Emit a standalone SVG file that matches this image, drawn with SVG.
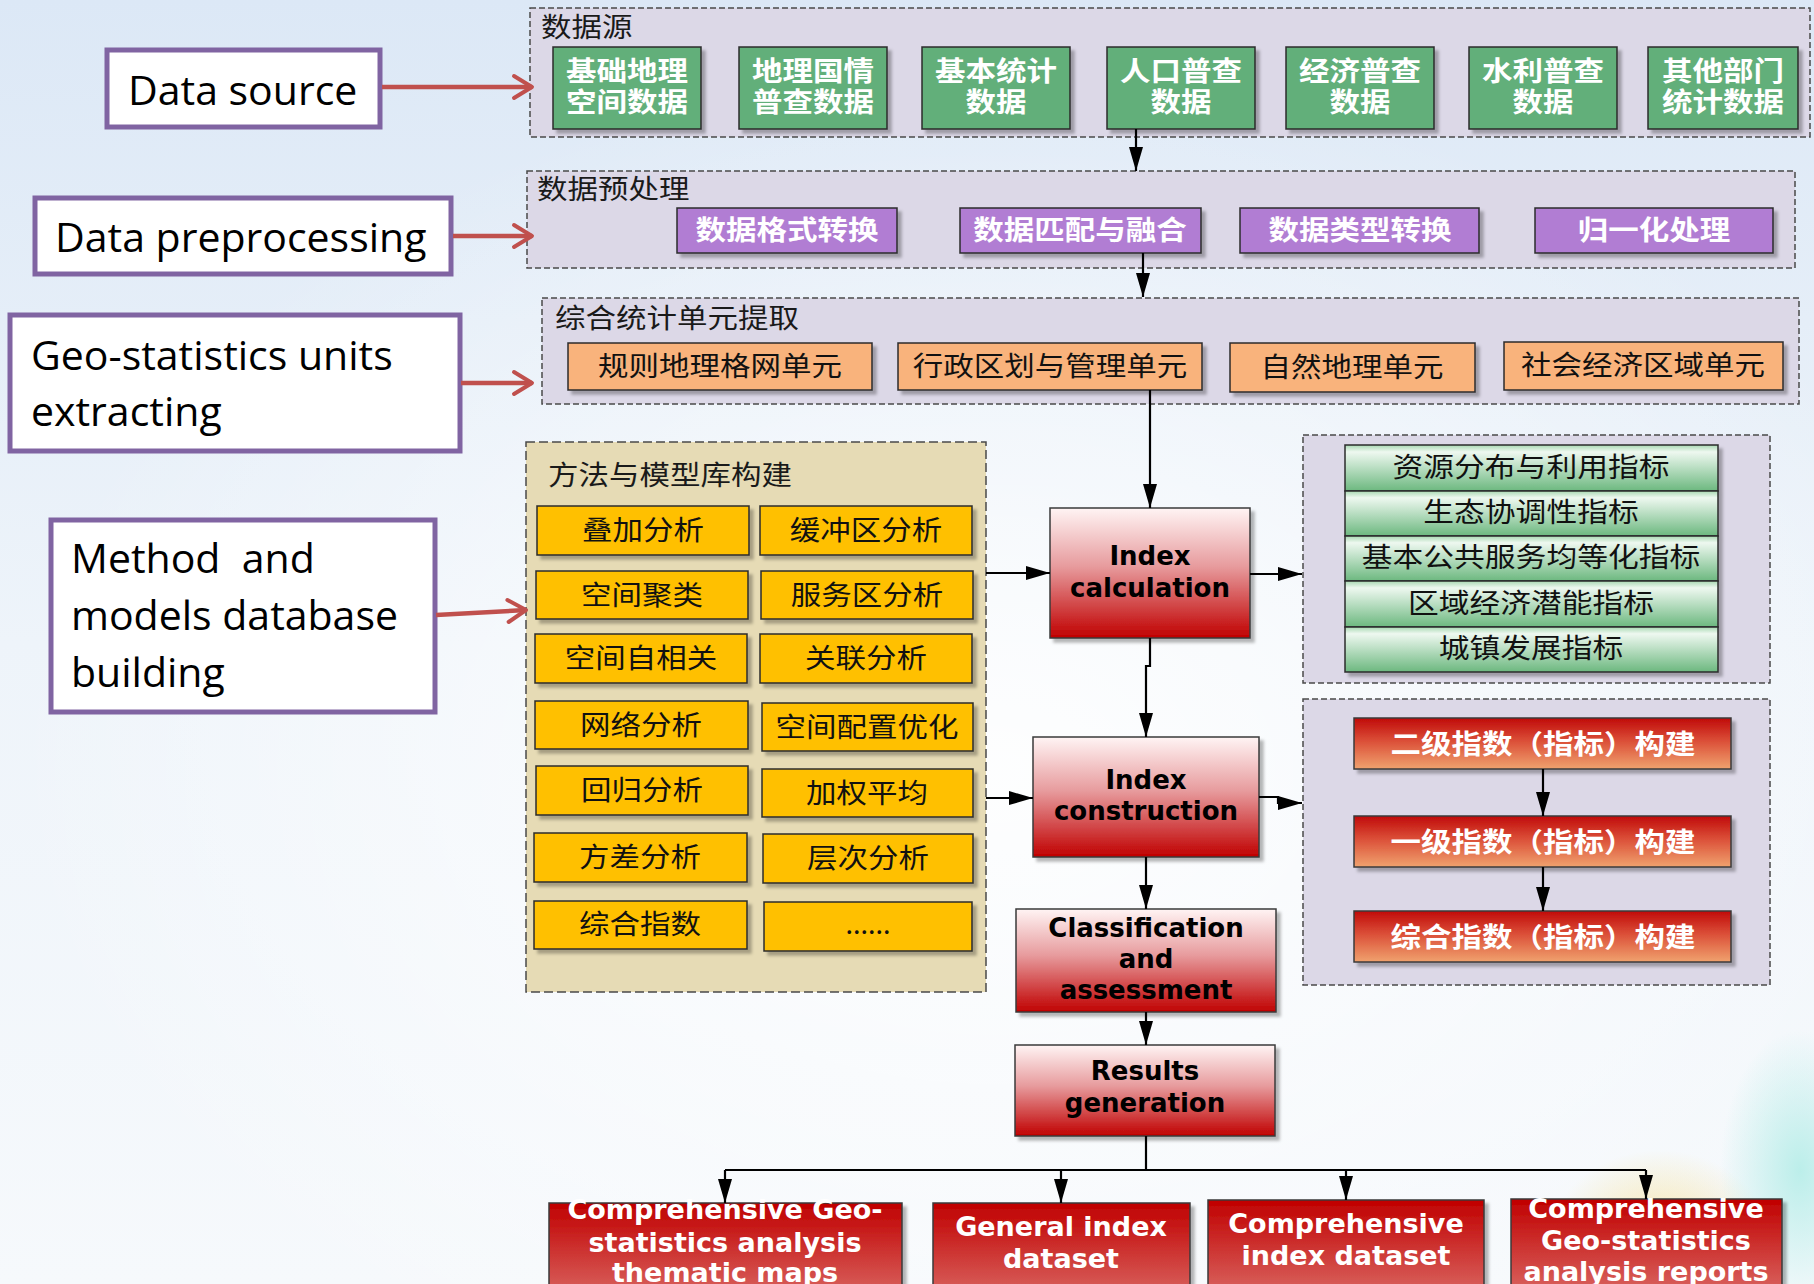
<svg xmlns="http://www.w3.org/2000/svg" width="1814" height="1284" viewBox="0 0 1814 1284">
  <defs>
    <linearGradient id="bg" x1="0" y1="0" x2="0" y2="1">
      <stop offset="0" stop-color="#DCE8F6"/>
      <stop offset="0.5" stop-color="#EEF4FA"/>
      <stop offset="1" stop-color="#F6F9FC"/>
    </linearGradient>
    <radialGradient id="bgWhite" cx="0.55" cy="0.6" r="0.55">
      <stop offset="0" stop-color="#FFFFFF" stop-opacity="0.9"/>
      <stop offset="1" stop-color="#FFFFFF" stop-opacity="0"/>
    </radialGradient>
    <radialGradient id="glowYellow" cx="0.5" cy="0.5" r="0.5">
      <stop offset="0" stop-color="#F7E3A0" stop-opacity="0.9"/>
      <stop offset="1" stop-color="#F7E3A0" stop-opacity="0"/>
    </radialGradient>
    <radialGradient id="glowTeal" cx="0.5" cy="0.5" r="0.5">
      <stop offset="0" stop-color="#B5EDE8" stop-opacity="0.9"/>
      <stop offset="1" stop-color="#B5EDE8" stop-opacity="0"/>
    </radialGradient>
    <linearGradient id="gStep" x1="0" y1="0" x2="0" y2="1">
      <stop offset="0" stop-color="#FFF4F4"/>
      <stop offset="0.45" stop-color="#E79B9D"/>
      <stop offset="1" stop-color="#C00000"/>
    </linearGradient>
    <linearGradient id="gBuild" x1="0" y1="0" x2="0" y2="1">
      <stop offset="0" stop-color="#C00A0A"/>
      <stop offset="0.45" stop-color="#DB4F38"/>
      <stop offset="1" stop-color="#F0A26E"/>
    </linearGradient>
    <linearGradient id="gResult" x1="0" y1="0" x2="0" y2="1">
      <stop offset="0" stop-color="#C00000"/>
      <stop offset="1" stop-color="#E0807A"/>
    </linearGradient>
    <linearGradient id="gIndicator" x1="0" y1="0" x2="0" y2="1">
      <stop offset="0" stop-color="#A8D8B2"/>
      <stop offset="0.15" stop-color="#EEF8F0"/>
      <stop offset="1" stop-color="#6CB87F"/>
    </linearGradient>
    <filter id="sh" x="-10%" y="-10%" width="130%" height="140%">
      <feDropShadow dx="4" dy="4" stdDeviation="1.5" flood-color="#000" flood-opacity="0.28"/>
    </filter>
    <marker id="tri" viewBox="0 0 24 14" refX="24" refY="7" markerWidth="24" markerHeight="14" markerUnits="userSpaceOnUse" orient="auto">
      <path d="M0,0 L24,7 L0,14 z" fill="#000"/>
    </marker>
    <marker id="chev" viewBox="-4 -4 28 30" refX="20" refY="11" markerWidth="28" markerHeight="30" markerUnits="userSpaceOnUse" orient="auto">
      <path d="M2,0 L20,11 L2,22" fill="none" stroke="#C0504D" stroke-width="4" stroke-linecap="round" stroke-linejoin="round"/>
    </marker>
    <style>
      .lbl { fill: #FFFFFF; stroke: #8064A2; stroke-width: 5; }
      .lbltxt { font-family: "Open Sans", "Noto Sans", sans-serif; font-size: 41px; fill: #000; }
      .grp { fill: #DCD8E7; stroke: #4A4A4A; stroke-width: 1.5; stroke-dasharray: 6 3; }
      .grpM { fill: #E6DBB5; stroke: #4A4A4A; stroke-width: 1.5; stroke-dasharray: 9 4; }
      .gtitle { font-family: "Noto Sans CJK SC", sans-serif; font-size: 27px; fill: #1A1A1A; }
      .cn { font-family: "Noto Sans CJK SC", sans-serif; font-size: 27px; fill: #111; text-anchor: middle; }
      .cnw { font-family: "Noto Sans CJK SC", sans-serif; font-size: 27px; font-weight: bold; fill: #FFFFFF; text-anchor: middle; }
      .en { font-family: "DejaVu Sans", sans-serif; font-size: 26px; font-weight: bold; fill: #000; text-anchor: middle; }
      .enw { font-family: "DejaVu Sans", sans-serif; font-size: 27px; font-weight: bold; fill: #FFFFFF; text-anchor: middle; }
      .green { fill: #62AF7A; stroke: #2B2B2B; stroke-width: 1.5; }
      .purple { fill: #B17DD3; stroke: #2B2B2B; stroke-width: 1.5; }
      .orange { fill: #F9B37B; stroke: #2B2B2B; stroke-width: 1.5; }
      .yellow { fill: #FFC000; stroke: #2B2B2B; stroke-width: 1.5; }
      .step { fill: url(#gStep); stroke: #3A3A3A; stroke-width: 1.5; }
      .build { fill: url(#gBuild); stroke: #3A3A3A; stroke-width: 1.5; }
      .result { fill: url(#gResult); stroke: #3A3A3A; stroke-width: 1.5; }
      .ind { fill: url(#gIndicator); stroke: #2B2B2B; stroke-width: 1.5; }
      .wire { fill: none; stroke: #000; stroke-width: 2.2; }
      .redarrow { fill: none; stroke: #C0504D; stroke-width: 4.5; }
    </style>
  </defs>

  <!-- background -->
  <rect x="0" y="0" width="1814" height="1284" fill="url(#bg)"/>
  <rect x="0" y="0" width="1814" height="1284" fill="url(#bgWhite)"/>
  <ellipse cx="1660" cy="1240" rx="110" ry="90" fill="url(#glowYellow)"/>
  <ellipse cx="1800" cy="1170" rx="80" ry="140" fill="url(#glowTeal)"/>

  <!-- stage labels on the left -->
  <g id="label-data-source">
    <rect class="lbl" x="107" y="50" width="273" height="77"/>
    <text class="lbltxt" x="128" y="105">Data source</text>
  </g>
  <g id="label-data-preprocessing">
    <rect class="lbl" x="35" y="198" width="416" height="76"/>
    <text class="lbltxt" x="55" y="252">Data preprocessing</text>
  </g>
  <g id="label-units-extracting">
    <rect class="lbl" x="10" y="315" width="450" height="136"/>
    <text class="lbltxt" x="31" y="370">Geo-statistics units</text>
    <text class="lbltxt" x="31" y="426">extracting</text>
  </g>
  <g id="label-method-building">
    <rect class="lbl" x="51" y="520" width="384" height="192"/>
    <text class="lbltxt" x="71" y="573" xml:space="preserve">Method  and</text>
    <text class="lbltxt" x="71" y="630">models database</text>
    <text class="lbltxt" x="71" y="687">building</text>
  </g>

  <!-- data source group (CJK labels are widened 1.13x to fill their boxes) -->
  <g id="group-data-source">
    <rect class="grp" x="530" y="8" width="1280" height="129"/>
    <text class="gtitle" transform="translate(541 0) scale(1.13 1)" x="0" y="37">数据源</text>
    <g filter="url(#sh)">
      <rect class="green" x="553" y="47" width="148" height="82"/>
      <rect class="green" x="739" y="47" width="148" height="82"/>
      <rect class="green" x="922" y="47" width="148" height="82"/>
      <rect class="green" x="1107" y="47" width="148" height="82"/>
      <rect class="green" x="1286" y="47" width="148" height="82"/>
      <rect class="green" x="1469" y="47" width="148" height="82"/>
      <rect class="green" x="1648" y="47" width="150" height="82"/>
    </g>
    <text class="cnw" transform="translate(627 0) scale(1.13 1)"><tspan x="0" y="81">基础地理</tspan><tspan x="0" y="112">空间数据</tspan></text>
    <text class="cnw" transform="translate(813 0) scale(1.13 1)"><tspan x="0" y="81">地理国情</tspan><tspan x="0" y="112">普查数据</tspan></text>
    <text class="cnw" transform="translate(996 0) scale(1.13 1)"><tspan x="0" y="81">基本统计</tspan><tspan x="0" y="112">数据</tspan></text>
    <text class="cnw" transform="translate(1181 0) scale(1.13 1)"><tspan x="0" y="81">人口普查</tspan><tspan x="0" y="112">数据</tspan></text>
    <text class="cnw" transform="translate(1360 0) scale(1.13 1)"><tspan x="0" y="81">经济普查</tspan><tspan x="0" y="112">数据</tspan></text>
    <text class="cnw" transform="translate(1543 0) scale(1.13 1)"><tspan x="0" y="81">水利普查</tspan><tspan x="0" y="112">数据</tspan></text>
    <text class="cnw" transform="translate(1723 0) scale(1.13 1)"><tspan x="0" y="81">其他部门</tspan><tspan x="0" y="112">统计数据</tspan></text>
  </g>

  <!-- data preprocessing group -->
  <g id="group-preprocessing">
    <rect class="grp" x="527" y="171" width="1268" height="97"/>
    <text class="gtitle" transform="translate(537 0) scale(1.13 1)" x="0" y="199">数据预处理</text>
    <g filter="url(#sh)">
      <rect class="purple" x="677" y="208" width="220" height="45"/>
      <rect class="purple" x="960" y="208" width="241" height="45"/>
      <rect class="purple" x="1240" y="208" width="239" height="45"/>
      <rect class="purple" x="1535" y="208" width="238" height="45"/>
    </g>
    <text class="cnw" transform="translate(787 0) scale(1.13 1)" x="0" y="240">数据格式转换</text>
    <text class="cnw" transform="translate(1080 0) scale(1.13 1)" x="0" y="240">数据匹配与融合</text>
    <text class="cnw" transform="translate(1360 0) scale(1.13 1)" x="0" y="240">数据类型转换</text>
    <text class="cnw" transform="translate(1654 0) scale(1.13 1)" x="0" y="240">归一化处理</text>
  </g>

  <!-- statistical units group -->
  <g id="group-units">
    <rect class="grp" x="542" y="298" width="1257" height="106"/>
    <text class="gtitle" transform="translate(555 0) scale(1.13 1)" x="0" y="328">综合统计单元提取</text>
    <g filter="url(#sh)">
      <rect class="orange" x="568" y="343" width="304" height="47"/>
      <rect class="orange" x="898" y="343" width="304" height="47"/>
      <rect class="orange" x="1230" y="343" width="245" height="49"/>
      <rect class="orange" x="1504" y="342" width="279" height="48"/>
    </g>
    <text class="cn" transform="translate(720 0) scale(1.13 1)" x="0" y="376">规则地理格网单元</text>
    <text class="cn" transform="translate(1050 0) scale(1.13 1)" x="0" y="376">行政区划与管理单元</text>
    <text class="cn" transform="translate(1352 0) scale(1.13 1)" x="0" y="377">自然地理单元</text>
    <text class="cn" transform="translate(1643 0) scale(1.13 1)" x="0" y="375">社会经济区域单元</text>
  </g>

  <!-- methods and models group -->
  <g id="group-methods">
    <rect class="grpM" x="526" y="442" width="460" height="550"/>
    <text class="gtitle" transform="translate(548 0) scale(1.13 1)" x="0" y="485">方法与模型库构建</text>
    <g filter="url(#sh)">
      <rect class="yellow" x="537" y="506" width="212" height="49"/>
      <rect class="yellow" x="760" y="506" width="212" height="49"/>
      <rect class="yellow" x="536" y="571" width="212" height="48"/>
      <rect class="yellow" x="761" y="571" width="212" height="48"/>
      <rect class="yellow" x="535" y="634" width="212" height="49"/>
      <rect class="yellow" x="760" y="634" width="212" height="49"/>
      <rect class="yellow" x="535" y="701" width="213" height="48"/>
      <rect class="yellow" x="762" y="703" width="211" height="48"/>
      <rect class="yellow" x="536" y="766" width="212" height="49"/>
      <rect class="yellow" x="762" y="769" width="211" height="48"/>
      <rect class="yellow" x="534" y="833" width="213" height="49"/>
      <rect class="yellow" x="763" y="834" width="210" height="49"/>
      <rect class="yellow" x="534" y="901" width="213" height="48"/>
      <rect class="yellow" x="764" y="902" width="208" height="49"/>
    </g>
    <text class="cn" transform="translate(643 0) scale(1.13 1)" x="0" y="540">叠加分析</text>
    <text class="cn" transform="translate(866 0) scale(1.13 1)" x="0" y="540">缓冲区分析</text>
    <text class="cn" transform="translate(642 0) scale(1.13 1)" x="0" y="605">空间聚类</text>
    <text class="cn" transform="translate(867 0) scale(1.13 1)" x="0" y="605">服务区分析</text>
    <text class="cn" transform="translate(641 0) scale(1.13 1)" x="0" y="668">空间自相关</text>
    <text class="cn" transform="translate(866 0) scale(1.13 1)" x="0" y="668">关联分析</text>
    <text class="cn" transform="translate(641 0) scale(1.13 1)" x="0" y="735">网络分析</text>
    <text class="cn" transform="translate(867 0) scale(1.13 1)" x="0" y="737">空间配置优化</text>
    <text class="cn" transform="translate(642 0) scale(1.13 1)" x="0" y="800">回归分析</text>
    <text class="cn" transform="translate(867 0) scale(1.13 1)" x="0" y="803">加权平均</text>
    <text class="cn" transform="translate(640 0) scale(1.13 1)" x="0" y="867">方差分析</text>
    <text class="cn" transform="translate(868 0) scale(1.13 1)" x="0" y="868">层次分析</text>
    <text class="cn" transform="translate(640 0) scale(1.13 1)" x="0" y="934">综合指数</text>
    <text class="cn" x="868" y="934">......</text>
  </g>

  <!-- main process steps -->
  <g id="step-index-calculation">
    <rect class="step" x="1050" y="508" width="200" height="130" filter="url(#sh)"/>
    <text class="en" x="1150" y="565">Index</text>
    <text class="en" x="1150" y="597">calculation</text>
  </g>
  <g id="step-index-construction">
    <rect class="step" x="1033" y="737" width="226" height="120" filter="url(#sh)"/>
    <text class="en" x="1146" y="789">Index</text>
    <text class="en" x="1146" y="820">construction</text>
  </g>
  <g id="step-classification">
    <rect class="step" x="1016" y="909" width="260" height="103" filter="url(#sh)"/>
    <text class="en" x="1146" y="937">Classification</text>
    <text class="en" x="1146" y="968">and</text>
    <text class="en" x="1146" y="999">assessment</text>
  </g>
  <g id="step-results">
    <rect class="step" x="1015" y="1045" width="260" height="91" filter="url(#sh)"/>
    <text class="en" x="1145" y="1080">Results</text>
    <text class="en" x="1145" y="1112">generation</text>
  </g>

  <!-- indicator group -->
  <g id="group-indicators">
    <rect class="grp" x="1303" y="435" width="467" height="248"/>
    <g filter="url(#sh)">
      <rect class="ind" x="1345" y="445" width="373" height="46"/>
      <rect class="ind" x="1345" y="491" width="373" height="45"/>
      <rect class="ind" x="1345" y="536" width="373" height="45"/>
      <rect class="ind" x="1345" y="581" width="373" height="46"/>
      <rect class="ind" x="1345" y="627" width="373" height="45"/>
    </g>
    <text class="cn" transform="translate(1531 0) scale(1.14 1)" x="0" y="477">资源分布与利用指标</text>
    <text class="cn" transform="translate(1531 0) scale(1.14 1)" x="0" y="522">生态协调性指标</text>
    <text class="cn" transform="translate(1531 0) scale(1.14 1)" x="0" y="567">基本公共服务均等化指标</text>
    <text class="cn" transform="translate(1531 0) scale(1.14 1)" x="0" y="613">区域经济潜能指标</text>
    <text class="cn" transform="translate(1531 0) scale(1.14 1)" x="0" y="658">城镇发展指标</text>
  </g>

  <!-- index building group -->
  <g id="group-index-building">
    <rect class="grp" x="1303" y="699" width="467" height="286"/>
    <g filter="url(#sh)">
      <rect class="build" x="1354" y="718" width="377" height="51"/>
      <rect class="build" x="1354" y="816" width="377" height="51"/>
      <rect class="build" x="1354" y="911" width="377" height="51"/>
    </g>
    <text class="cnw" transform="translate(1543 0) scale(1.13 1)" x="0" y="754">二级指数（指标）构建</text>
    <text class="cnw" transform="translate(1543 0) scale(1.13 1)" x="0" y="852">一级指数（指标）构建</text>
    <text class="cnw" transform="translate(1543 0) scale(1.13 1)" x="0" y="947">综合指数（指标）构建</text>
  </g>

  <!-- output products -->
  <g id="output-thematic-maps">
    <rect class="result" x="549" y="1203" width="353" height="120" filter="url(#sh)"/>
    <text class="enw"><tspan x="725" y="1219">Comprehensive Geo-</tspan><tspan x="725" y="1252">statistics analysis</tspan><tspan x="725" y="1282">thematic maps</tspan></text>
  </g>
  <g id="output-general-index">
    <rect class="result" x="933" y="1203" width="257" height="120" filter="url(#sh)"/>
    <text class="enw" x="1061" y="1236">General index</text>
    <text class="enw" x="1061" y="1268">dataset</text>
  </g>
  <g id="output-comprehensive-index">
    <rect class="result" x="1208" y="1200" width="276" height="120" filter="url(#sh)"/>
    <text class="enw" x="1346" y="1233">Comprehensive</text>
    <text class="enw" x="1346" y="1265">index dataset</text>
  </g>
  <g id="output-reports">
    <rect class="result" x="1511" y="1199" width="271" height="120" filter="url(#sh)"/>
    <text class="enw"><tspan x="1646" y="1218">Comprehensive</tspan><tspan x="1646" y="1250">Geo-statistics</tspan><tspan x="1646" y="1281">analysis reports</tspan></text>
  </g>

  <!-- connectors -->
  <g id="connectors">
    <line class="redarrow" x1="382" y1="87" x2="532" y2="87" marker-end="url(#chev)"/>
    <line class="redarrow" x1="453" y1="236" x2="532" y2="236" marker-end="url(#chev)"/>
    <line class="redarrow" x1="461" y1="383" x2="532" y2="383" marker-end="url(#chev)"/>
    <line class="redarrow" x1="436" y1="615" x2="526" y2="610" marker-end="url(#chev)"/>

    <line class="wire" x1="1136" y1="129" x2="1136" y2="171" marker-end="url(#tri)"/>
    <line class="wire" x1="1143" y1="253" x2="1143" y2="297" marker-end="url(#tri)"/>
    <line class="wire" x1="1150" y1="390" x2="1150" y2="508" marker-end="url(#tri)"/>
    <line class="wire" x1="986" y1="573" x2="1050" y2="573" marker-end="url(#tri)"/>
    <line class="wire" x1="1250" y1="574" x2="1302" y2="574" marker-end="url(#tri)"/>
    <path class="wire" d="M1150,638 V666 H1146 V737" marker-end="url(#tri)"/>
    <line class="wire" x1="986" y1="798" x2="1033" y2="798" marker-end="url(#tri)"/>
    <path class="wire" d="M1259,797 H1278 V803 H1302" marker-end="url(#tri)"/>
    <line class="wire" x1="1543" y1="769" x2="1543" y2="816" marker-end="url(#tri)"/>
    <line class="wire" x1="1543" y1="867" x2="1543" y2="911" marker-end="url(#tri)"/>
    <line class="wire" x1="1146" y1="857" x2="1146" y2="909" marker-end="url(#tri)"/>
    <line class="wire" x1="1146" y1="1012" x2="1146" y2="1045" marker-end="url(#tri)"/>
    <path class="wire" d="M1146,1136 V1170"/>
    <path class="wire" d="M725,1170 H1646"/>
    <line class="wire" x1="725" y1="1170" x2="725" y2="1203" marker-end="url(#tri)"/>
    <line class="wire" x1="1061" y1="1170" x2="1061" y2="1203" marker-end="url(#tri)"/>
    <line class="wire" x1="1346" y1="1170" x2="1346" y2="1200" marker-end="url(#tri)"/>
    <line class="wire" x1="1646" y1="1170" x2="1646" y2="1199" marker-end="url(#tri)"/>
  </g>
</svg>
